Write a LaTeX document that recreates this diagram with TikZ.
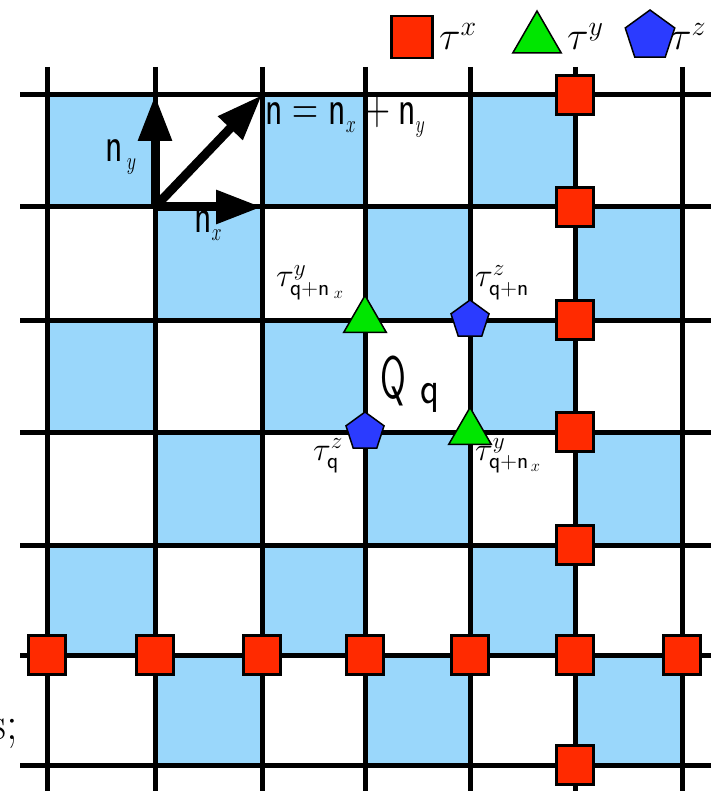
\RequirePackage{fix-cm}
\documentclass[tikz,border=0pt]{standalone}
\usepackage{graphicx}
\usetikzlibrary{arrows.meta,shapes.geometric}
\definecolor{ink}{HTML}{000000}
\definecolor{cellfill}{HTML}{9AD7FB}
\definecolor{xfill}{HTML}{FF2A00}
\definecolor{yfill}{HTML}{00E600}
\definecolor{zfill}{HTML}{2B3BFF}

\begin{document}
\begin{tikzpicture}[
  x=1pt, y=-1pt,
  gridline/.style={draw=ink, line width=5pt},
  vec/.style={-{Triangle[length=46pt, width=32pt]}, draw=ink, line width=9pt},
  xop/.style={draw=ink, fill=xfill, line width=2.5pt, minimum width=37pt,
    minimum height=39pt, inner sep=0pt},
  yop/.style={regular polygon, regular polygon sides=3, draw=ink, fill=yfill,
    line width=1.5pt, minimum size=49pt, inner sep=0pt},
  zop/.style={regular polygon, regular polygon sides=5, draw=ink, fill=zfill,
    line width=1.5pt, minimum size=40pt, inner sep=0pt},
  lab/.style={anchor=base west, inner sep=0pt, text=ink},
  biglab/.style={lab, font=\fontsize{50}{50}\selectfont},
  taulab/.style={lab, font=\fontsize{33}{33}\selectfont}
]
\useasboundingbox (0,0) rectangle (711,791);

% lattice vertices: column c, row r
\foreach \c/\px in {0/47,1/155,2/262,3/365,4/470,5/575,6/682}{
  \foreach \r/\py in {0/95,1/207,2/320,3/432,4/545,5/655,6/765}{
    \coordinate (v\c\r) at (\px,\py);
  }
}

% checkerboard of plaquettes
\foreach \c [evaluate=\c as \cn using int(\c+1)] in {0,...,5}{
  \foreach \r [evaluate=\r as \rn using int(\r+1)] in {0,...,5}{
    \pgfmathtruncatemacro\odd{mod(\c+\r,2)}
    \ifnum\odd=0 \fill[cellfill] (v\c\r) rectangle (v\cn\rn); \fi
  }
}

\foreach \r in {0,...,6} \draw[gridline] (v0\r) ++(-27,0) -- ++(691,0);
\foreach \c in {0,...,6} \draw[gridline] (v\c0) ++(0,-28) -- ++(0,724);

% lattice vectors
\draw[vec] (v11) -- (v10);
\draw[vec] (v11) -- (v21);
\draw[vec] (v11) -- (v20);

\node[biglab] (lny) at (105,162) {\scalebox{0.72}[1]{$\mathsf{n}_{\,\scriptscriptstyle y}$}};
\node[biglab] (lnx) at (194,233) {\scalebox{0.72}[1]{$\mathsf{n}_{\scriptscriptstyle x}$}};
\node[biglab] (lnn) at (265,125) {\scalebox{0.72}[1]{$\mathsf{n}=\mathsf{n}_{\scriptscriptstyle x}+\mathsf{n}_{\scriptscriptstyle y}$}};

% tau^x along one column and one row
\foreach \r in {0,...,6} \node[xop] (xc\r) at (v5\r) {};
\foreach \c in {0,...,6} \node[xop] (xr\c) at (v\c5) {};

% the plaquette Q_q
\node[yop] (ya) at (v32) {};
\node[zop] (za) at (v42) {};
\node[zop] (zb) at (v33) {};
\node[yop] (yb) at (v43) {};

\node[lab] (lq) at (380,398) {\scalebox{0.62}[1]{\fontsize{60}{60}\selectfont\sffamily Q}\hspace{15pt}\raisebox{-5pt}{\scalebox{0.85}[1]{\fontsize{46}{46}\selectfont\sffamily q}}};
\node[taulab] (lya) at (276,287) {$\tau^{y}_{\mathsf{q}+\mathsf{n}_{\;x}}$};
\node[taulab] (lza) at (475,287) {$\tau^{z}_{\mathsf{q}+\mathsf{n}}$};
\node[taulab] (lzb) at (313,460) {$\tau^{z}_{\mathsf{q}}$};
\node[taulab] (lyb) at (475,460) {$\tau^{y}_{\mathsf{q}+\mathsf{n}_{\,x}}$};

% key
\node[xop, minimum width=41pt, minimum height=42pt] (keyx) at (412,37) {};
\node[taulab, font=\fontsize{40}{40}\selectfont] (tkx) at (439,50) {$\tau^x$};
\node[yop, minimum size=56pt] (keyy) at (537,39) {};
\node[taulab, font=\fontsize{40}{40}\selectfont] (tky) at (567,50) {$\tau^y$};
\node[zop, minimum size=52pt] (keyz) at (650,36) {};
\node[taulab, font=\fontsize{40}{40}\selectfont] (tkz) at (670,50) {$\tau^z$};

\node[lab, anchor=base east, font=\fontsize{47}{47}\selectfont] (cut) at (18,739) {s;};
\end{tikzpicture}
\end{document}
